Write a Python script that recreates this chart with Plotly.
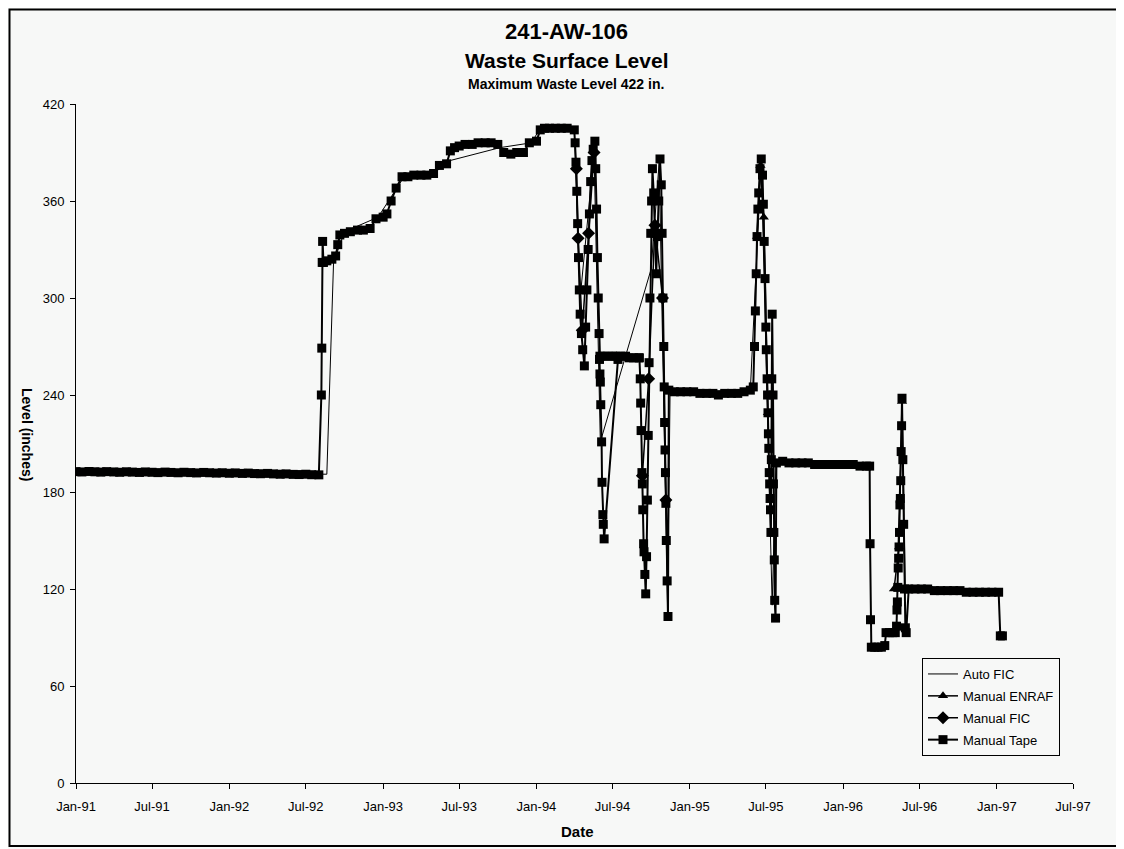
import plotly.graph_objects as go

# ---------------- data ----------------
tape_dates = [
    "1991-01-01", "1991-01-15", "1991-02-01", "1991-02-15", "1991-03-01", "1991-03-15",
    "1991-04-01", "1991-04-15", "1991-05-01", "1991-05-15", "1991-06-01", "1991-06-15",
    "1991-07-01", "1991-07-15", "1991-08-01", "1991-08-15", "1991-09-01", "1991-09-15",
    "1991-10-01", "1991-10-15", "1991-11-01", "1991-11-15", "1991-12-01", "1991-12-15",
    "1992-01-01", "1992-01-15", "1992-02-01", "1992-02-15", "1992-03-01", "1992-03-15",
    "1992-04-01", "1992-04-15", "1992-05-01", "1992-05-15", "1992-06-01", "1992-06-15",
    "1992-07-01", "1992-07-15", "1992-08-01",
    "1992-08-07", "1992-08-08", "1992-08-09", "1992-08-10", "1992-08-12", "1992-08-20",
    "1992-09-01", "1992-09-10", "1992-09-15", "1992-09-20", "1992-10-01", "1992-10-15",
    "1992-11-01", "1992-11-15", "1992-12-01", "1992-12-15", "1993-01-01", "1993-01-10",
    "1993-01-20", "1993-02-01", "1993-02-15", "1993-03-01", "1993-03-15", "1993-04-01",
    "1993-04-15", "1993-05-01", "1993-05-15", "1993-06-01", "1993-06-10", "1993-06-20",
    "1993-07-01", "1993-07-15", "1993-08-01", "1993-08-15", "1993-09-01", "1993-09-15",
    "1993-10-01", "1993-10-15", "1993-11-01", "1993-11-15", "1993-12-01", "1993-12-15",
    "1994-01-01", "1994-01-10", "1994-01-20", "1994-02-01", "1994-02-15", "1994-03-01",
    "1994-03-15", "1994-04-01",
    "1994-04-03", "1994-04-05", "1994-04-07", "1994-04-09", "1994-04-11", "1994-04-13",
    "1994-04-15", "1994-04-18", "1994-04-21", "1994-04-25", "1994-04-28", "1994-05-01",
    "1994-05-04", "1994-05-07", "1994-05-10", "1994-05-13", "1994-05-16", "1994-05-20",
    "1994-05-22", "1994-05-24", "1994-05-26", "1994-05-28", "1994-05-30",
    "1994-06-01", "1994-06-10", "1994-06-20", "1994-07-01", "1994-07-10", "1994-07-20",
    "1994-08-01", "1994-08-10", "1994-08-20", "1994-09-01", "1994-09-03",
    "1994-09-05", "1994-09-06", "1994-09-07", "1994-09-09", "1994-09-10", "1994-09-11",
    "1994-09-13", "1994-09-14", "1994-09-16", "1994-09-18", "1994-09-20", "1994-09-22",
    "1994-09-24", "1994-09-26", "1994-09-28", "1994-09-30", "1994-10-02", "1994-10-04",
    "1994-10-07", "1994-10-10", "1994-10-13", "1994-10-16", "1994-10-19", "1994-10-22",
    "1994-10-25", "1994-10-27", "1994-10-29", "1994-10-31", "1994-11-01", "1994-11-02",
    "1994-11-03", "1994-11-04", "1994-11-05", "1994-11-06", "1994-11-08", "1994-11-10",
    "1994-11-12", "1994-11-25", "1994-12-10", "1994-12-25", "1995-01-10", "1995-01-25",
    "1995-02-10", "1995-02-25", "1995-03-10", "1995-03-25", "1995-04-10", "1995-04-25",
    "1995-05-10", "1995-05-25",
    "1995-06-01", "1995-06-04", "1995-06-06", "1995-06-08", "1995-06-10", "1995-06-12",
    "1995-06-14", "1995-06-17", "1995-06-20", "1995-06-23", "1995-06-25", "1995-06-27",
    "1995-06-29", "1995-07-01", "1995-07-02", "1995-07-04", "1995-07-05", "1995-07-06",
    "1995-07-07", "1995-07-08", "1995-07-09", "1995-07-10", "1995-07-11", "1995-07-12",
    "1995-07-13", "1995-07-14", "1995-07-15", "1995-07-16", "1995-07-18", "1995-07-19",
    "1995-07-20", "1995-07-21", "1995-07-22", "1995-07-24",
    "1995-07-26", "1995-08-10", "1995-08-25", "1995-09-10", "1995-09-25", "1995-10-10",
    "1995-10-25", "1995-11-10", "1995-11-25", "1995-12-10", "1995-12-25", "1996-01-10",
    "1996-01-25", "1996-02-10", "1996-02-25", "1996-03-04",
    "1996-03-05", "1996-03-06", "1996-03-08", "1996-03-16", "1996-03-24", "1996-04-01",
    "1996-04-09", "1996-04-12", "1996-04-20", "1996-04-28", "1996-05-04",
    "1996-05-07", "1996-05-08", "1996-05-09", "1996-05-10", "1996-05-11", "1996-05-12",
    "1996-05-13", "1996-05-14", "1996-05-15", "1996-05-16", "1996-05-17", "1996-05-18",
    "1996-05-19", "1996-05-20", "1996-05-22", "1996-05-24", "1996-05-26", "1996-05-28",
    "1996-05-30",
    "1996-06-05", "1996-06-20", "1996-07-05", "1996-07-20", "1996-08-05", "1996-08-20",
    "1996-09-05", "1996-09-20", "1996-10-05", "1996-10-20", "1996-11-05", "1996-11-20",
    "1996-12-05", "1996-12-20", "1997-01-05", "1997-01-09", "1997-01-14",
]
tape_levels = [
    192.6, 192.4, 192.7, 192.5, 192.3, 192.6,
    192.4, 192.2, 192.5, 192.3, 192.1, 192.4,
    192.2, 192.0, 192.3, 192.1, 191.9, 192.2,
    192.0, 191.8, 192.1, 191.9, 191.7, 191.9,
    191.6, 191.8, 191.5, 191.7, 191.4, 191.3,
    191.5, 191.2, 191.0, 191.2, 190.9, 190.8,
    191.0, 190.7, 190.6,
    240, 269, 322, 335, 322, 323,
    324, 326, 333, 339, 340, 341,
    342, 342, 343, 349, 350, 352,
    360, 368, 375, 375, 376, 376,
    376, 377, 382, 383, 391, 393,
    394, 395, 395, 396, 396, 396,
    395, 390, 389, 390, 390, 396,
    397, 404, 405, 405, 405, 405,
    405, 404,
    396, 384, 366, 346, 325, 305,
    290, 278, 268, 258, 282, 305,
    330, 352, 372, 385, 392, 397,
    380, 355, 325, 300, 278,
    264, 264, 264, 264, 264, 264,
    264, 263, 263, 263, 263,
    250, 235, 218, 192, 185, 169,
    148, 143, 129, 117, 140, 175,
    215, 260, 300, 340, 360, 380,
    365, 340, 315, 338, 360, 386,
    370, 340, 300, 270, 245, 223,
    206, 192, 173, 150, 125, 103,
    243, 242, 242, 242, 242, 241,
    241, 241, 240, 241, 241, 241,
    242, 243,
    245, 270, 292, 315, 338, 355,
    365, 380, 386, 376, 358, 335,
    312, 282, 268, 250, 240, 229,
    216, 207, 192, 185, 176, 169,
    155, 200, 250, 290, 240, 185,
    155, 138, 113, 102,
    198, 199, 198, 198, 198, 198,
    197, 197, 197, 197, 197, 197,
    197, 196, 196, 196,
    148, 101, 84, 84, 84, 84,
    85, 93, 93, 93, 93,
    97, 107, 112, 121, 133, 139,
    146, 155, 172, 176, 187, 205,
    221, 238, 200, 160, 120, 96,
    93,
    120, 120, 120, 120, 119, 119,
    119, 119, 119, 118, 118, 118,
    118, 118, 118, 91, 91,
]

# second Manual Tape run (June 1994 draw-down)
tape2_dates = ["1994-05-31", "1994-06-01", "1994-06-02", "1994-06-03", "1994-06-05",
               "1994-06-06", "1994-06-08", "1994-06-09", "1994-06-11", "1994-07-14"]
tape2_levels = [262, 253, 248, 234, 211, 186, 166, 160, 151, 262]

auto_dates = ["1991-01-01", "1991-07-01", "1992-01-01", "1992-08-20", "1992-09-05",
              "1992-10-01", "1992-12-20", "1993-02-20", "1993-05-01", "1993-06-09",
              "1993-10-06", "1993-12-20", "1994-01-10", "1994-04-01", "1994-04-15",
              "1994-05-18", "1994-06-02", "1994-10-01", "1994-10-20", "1994-11-09",
              "1994-11-15", "1995-05-25", "1995-06-20", "1995-07-16", "1995-07-25",
              "1996-03-03"]
auto_levels = [193.0, 192.5, 191.8, 191.0, 322,
               341, 350, 375, 377, 385,
               393, 396, 405, 404, 300,
               390, 211, 318, 384, 110,
               242, 243, 384, 110, 198,
               196]

# None = break in the ENRAF record
enraf_dates = ["1995-06-10", "1995-06-18", "1995-06-26", "1995-07-06", None,
               "1996-05-01", "1996-05-13", "1996-05-20", "1996-05-27",
               "1996-08-01", "1996-12-01"]
enraf_levels = [338, 382, 350, 229, None,
                120, 146, 236, 120,
                119, 118]

fic_dates = ["1994-04-06", "1994-04-10", "1994-04-20", "1994-05-05", "1994-05-18", None,
             "1994-09-10", "1994-09-25", "1994-10-10", "1994-10-28", "1994-11-05"]
fic_levels = [380, 337, 280, 340, 390, None,
              190, 250, 345, 300, 175]

y_ticks = [0, 60, 120, 180, 240, 300, 360, 420]

# ---------------- layout helpers (pixel geometry) ----------------
# the page body adds an 8 px offset; positions below are page pixels
OFF = 8
W, H = 1124 - OFF, 849 - OFF
L, R, T, B = 76, 1073, 104, 783
PW, PH = R - L, B - T


def px(x):
    return (x - L) / PW


def py(y):
    return (B - y) / PH


FONT = "Liberation Sans, Arial, Helvetica, sans-serif"
BG = "#f7f8f7"

fig = go.Figure()

fig.add_trace(go.Scatter(
    x=auto_dates, y=auto_levels, name="Auto FIC", mode="lines",
    line=dict(color="black", width=1), legendgroup="a"))
fig.add_trace(go.Scatter(
    x=enraf_dates, y=enraf_levels, name="Manual ENRAF", mode="lines+markers",
    line=dict(color="black", width=1.5),
    marker=dict(symbol="triangle-up", size=9, color="black"), legendgroup="b"))
fig.add_trace(go.Scatter(
    x=fic_dates, y=fic_levels, name="Manual FIC", mode="lines+markers",
    line=dict(color="black", width=1.5),
    marker=dict(symbol="diamond", size=10, color="black"), legendgroup="c"))
fig.add_trace(go.Scatter(
    x=tape_dates, y=tape_levels, name="Manual Tape", mode="lines+markers",
    line=dict(color="black", width=2),
    marker=dict(symbol="square", size=9, color="black"), legendgroup="d"))
fig.add_trace(go.Scatter(
    x=tape2_dates, y=tape2_levels, name="Manual Tape", mode="lines+markers",
    line=dict(color="black", width=2), showlegend=False,
    marker=dict(symbol="square", size=9, color="black"), legendgroup="d"))

fig.update_layout(
    width=W, height=H,
    margin=dict(l=L - OFF, r=W - (R - OFF), t=T - OFF, b=H - (B - OFF), pad=0),
    paper_bgcolor=BG, plot_bgcolor=BG,
    font=dict(family=FONT, color="black", size=13),
    showlegend=True,
    legend=dict(
        x=px(922), y=py(658), xanchor="left", yanchor="top",
        bgcolor=BG, bordercolor="black", borderwidth=1,
        font=dict(family=FONT, size=13, color="black"),
        traceorder="grouped", tracegroupgap=2, itemwidth=30,
    ),
    xaxis=dict(
        type="date", range=["1991-01-01", "1997-07-01"],
        tick0="1991-01-01", dtick="M6", tickformat="%b-%y",
        showgrid=False, zeroline=False, showline=True, linecolor="black", linewidth=1,
        ticks="outside", ticklen=5, tickcolor="black", tickwidth=1,
        ticklabelstandoff=6,
        tickfont=dict(family=FONT, size=13, color="black"),
    ),
    yaxis=dict(
        range=[0, 420], tickvals=y_ticks,
        showgrid=False, zeroline=False, showline=True, linecolor="black", linewidth=1,
        ticks="outside", ticklen=5, tickcolor="black", tickwidth=1,
        ticklabelstandoff=3,
        tickfont=dict(family=FONT, size=13, color="black"),
    ),
)

annos = [
    dict(text="<b>241-AW-106</b>", x=px(566), y=py(32), size=22),
    dict(text="<b>Waste Surface Level</b>", x=px(566), y=py(60), size=21),
    dict(text="<b>Maximum Waste Level 422 in.</b>", x=px(566), y=py(84), size=14),
    dict(text="<b>Date</b>", x=px(577), y=py(831), size=15),
]
for a in annos:
    fig.add_annotation(text=a["text"], x=a["x"], y=a["y"], xref="paper", yref="paper",
                       xanchor="center", yanchor="middle", showarrow=False,
                       font=dict(family=FONT, size=a["size"], color="black"))

fig.add_annotation(text="<b>Level (inches)</b>", x=px(27), y=py(434), xref="paper", yref="paper",
                   xanchor="center", yanchor="middle", showarrow=False, textangle=90,
                   font=dict(family=FONT, size=14, color="black"))

# outer frame of the chart (kept just inside the figure so it is not clipped)
fig.add_shape(type="rect", xref="paper", yref="paper",
              x0=px(9.5), x1=px(1121), y0=py(846), y1=py(9.5),
              line=dict(color="black", width=2), fillcolor="rgba(0,0,0,0)", layer="below")

fig.write_html("out.html")
